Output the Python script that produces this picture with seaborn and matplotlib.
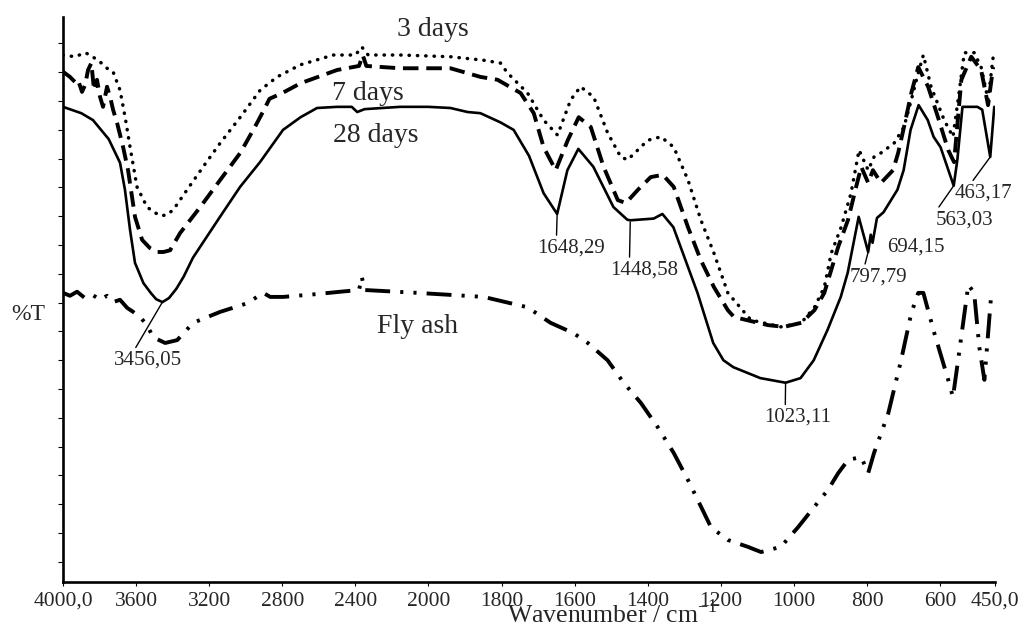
import numpy as np
import matplotlib
matplotlib.use("Agg")
import matplotlib.pyplot as plt
import seaborn as sns

# FTIR spectra (%T, arbitrary units)
wn_3 = [4000, 3934, 3879, 3852, 3797, 3759, 3726, 3688, 3660, 3633,
        3595, 3540, 3505, 3469, 3435, 3397, 3321, 3233, 3140, 3030,
        2921, 2828, 2701, 2521, 2400, 2365, 2330, 2154, 1940, 1850,
        1803, 1784, 1729, 1685, 1647, 1611, 1584, 1548, 1510, 1474,
        1455, 1400, 1364, 1329, 1290, 1255, 1219, 1181, 1118, 1036,
        980, 944, 917, 898, 871, 844, 822, 797, 781, 762,
        726, 699, 679, 660, 646, 625, 589, 565, 551, 534,
        507, 488, 469, 455]
t_3 = [88.0, 87.7, 88.4, 88.0, 86.8, 85.7, 85.1, 81.9, 77.2, 72.0,
       65.1, 61.6, 60.8, 60.1, 60.2, 61.1, 64.6, 68.6, 72.7, 77.2,
       81.9, 84.2, 86.3, 88.0, 88.0, 89.4, 88.0, 88.0, 87.7, 87.1,
       86.6, 84.9, 81.4, 76.7, 74.1, 80.2, 82.5, 80.7, 74.5, 70.3,
       69.8, 73.2, 73.8, 72.0, 66.3, 59.4, 53.6, 46.7, 42.0, 40.8,
       41.5, 44.2, 47.7, 53.6, 58.1, 64.0, 71.5, 68.0, 70.3, 71.0,
       72.7, 75.5, 80.2, 84.9, 88.0, 82.5, 76.7, 73.8, 80.2, 88.4,
       88.4, 85.9, 80.2, 87.7]

wn_7 = [4000, 3962, 3934, 3918, 3896, 3879, 3863, 3845, 3830, 3814,
        3797, 3781, 3759, 3742, 3726, 3704, 3671, 3644, 3622, 3606,
        3567, 3525, 3485, 3450, 3414, 3359, 3249, 3140, 3030, 2950,
        2900, 2870, 2800, 2700, 2500, 2380, 2360, 2340, 2156, 1940,
        1858, 1811, 1748, 1712, 1685, 1652, 1619, 1589, 1556, 1521,
        1482, 1460, 1427, 1392, 1359, 1329, 1290, 1255, 1219, 1181,
        1164, 1071, 1027, 980, 944, 917, 879, 852, 830, 816,
        797, 784, 762, 729, 715, 699, 679, 660, 633, 606,
        578, 562, 542, 515, 488, 469, 455]
t_7 = [85.1, 84.2, 83.3, 83.7, 81.6, 82.8, 85.4, 86.6, 81.9, 83.7,
       80.7, 79.0, 82.5, 80.7, 78.5, 76.2, 72.0, 68.0, 63.3, 59.9,
       55.9, 54.5, 53.8, 53.8, 54.1, 57.1, 61.6, 66.3, 71.0, 75.5,
       78.5, 80.4, 81.4, 83.1, 85.4, 86.1, 88.0, 86.1, 85.7, 85.7,
       84.2, 83.7, 81.4, 77.9, 72.0, 68.0, 73.2, 77.2, 75.5, 68.6,
       62.8, 62.3, 64.6, 66.8, 67.2, 65.1, 58.1, 52.4, 47.7, 43.7,
       42.5, 41.1, 40.8, 41.5, 43.7, 46.7, 54.7, 59.4, 65.1, 68.6,
       65.8, 68.0, 65.8, 68.0, 71.0, 75.5, 81.4, 85.9, 82.5, 77.2,
       71.5, 69.4, 83.7, 87.7, 85.4, 79.3, 85.9]

wn_28 = [4000, 3900, 3836, 3750, 3688, 3661, 3633, 3606, 3590, 3560,
         3520, 3490, 3456, 3420, 3380, 3340, 3289, 3141, 3031, 2922,
         2796, 2700, 2610, 2500, 2420, 2390, 2350, 2156, 2000, 1940,
         1893, 1858, 1803, 1767, 1725, 1685, 1648, 1620, 1590, 1549,
         1494, 1456, 1448, 1384, 1360, 1330, 1264, 1221, 1193, 1166,
         1092, 1023, 982, 946, 908, 872, 853, 823, 797, 790,
         785, 773, 755, 717, 700, 681, 659, 634, 618, 599,
         563, 553, 539, 498, 485, 463, 452]
t_28 = [79.0, 77.9, 76.7, 73.4, 69.3, 64.6, 57.6, 51.9, 50.7, 48.4,
        46.7, 45.6, 45.1, 45.8, 47.4, 49.5, 52.8, 59.9, 65.1, 69.4,
        75.0, 77.2, 78.8, 79.0, 79.0, 78.1, 78.6, 79.0, 79.0, 78.8,
        78.1, 77.9, 76.3, 75.0, 70.5, 64.0, 60.4, 68.0, 71.7, 68.6,
        61.6, 59.4, 59.3, 59.6, 60.4, 58.1, 46.7, 38.0, 35.0, 33.8,
        31.9, 31.1, 31.9, 35.0, 40.3, 46.0, 50.2, 59.9, 53.8, 56.8,
        55.4, 59.7, 60.7, 64.6, 68.0, 75.0, 79.3, 76.7, 73.8, 72.0,
        65.3, 69.8, 79.0, 79.0, 78.5, 70.3, 79.0]

wn_fa = [4000, 3962, 3923, 3880, 3836, 3797, 3759, 3726, 3688, 3649,
         3616, 3578, 3540, 3507, 3441, 3375, 3288, 3140, 2992, 2904,
         2866, 2795, 2608, 2482, 2380, 2365, 2350, 2060, 1849, 1729,
         1666, 1603, 1564, 1510, 1466, 1419, 1373, 1329, 1290, 1263,
         1227, 1181, 1126, 1090, 1036, 989, 945, 907, 879, 852,
         816, 797, 781, 742, 707, 679, 660, 646, 616, 578,
         565, 551, 523, 507, 493, 479, 460]
t_fa = [46.7, 46.2, 46.9, 45.8, 46.3, 45.5, 46.2, 45.1, 45.5, 44.1,
        43.4, 42.5, 41.1, 39.0, 38.0, 38.5, 41.5, 43.4, 44.9, 46.7,
        46.0, 46.0, 46.5, 46.9, 47.2, 49.5, 47.2, 46.7, 46.0, 44.2,
        41.5, 39.7, 38.0, 35.0, 31.1, 27.6, 23.4, 18.9, 14.2, 10.7,
        6.0, 3.8, 2.6, 1.7, 2.6, 6.0, 9.5, 12.5, 15.4, 17.7,
        18.2, 15.4, 18.9, 25.8, 35.0, 43.2, 46.7, 46.7, 39.7, 31.6,
        28.6, 35.0, 48.1, 46.7, 37.3, 31.6, 46.7]

x_ticks = [4000, 3600, 3200, 2800, 2400, 2000, 1800, 1600, 1400, 1200, 1000, 800, 600, 450]
x_tick_labels = ["4000,0", "3600", "3200", "2800", "2400", "2000", "1800", "1600",
                 "1400", "1200", "1000", "800", "600", "450,0"]

# band labels on the 28-day spectrum
band_labels = ["3456,05", "1648,29", "1448,58", "1023,11", "797,79", "563,03", "463,17"]
band_wn = [3456, 1648, 1448, 1023, 797, 563, 463]
band_t = [45.1, 60.4, 59.0, 31.1, 53.8, 65.3, 70.3]


def fwd(x):
    # wavenumbers above 2000 are drawn at half scale
    x = np.asarray(x, dtype=float)
    return np.where(x > 2000, 2000 + (x - 2000) / 2.0, x)


def inv(u):
    u = np.asarray(u, dtype=float)
    return np.where(u > 2000, 2000 + (u - 2000) * 2.0, u)


sns.set_theme(style="ticks")
plt.rcParams["font.family"] = ["Liberation Serif", "DejaVu Serif"]
plt.rcParams["mathtext.fontset"] = "custom"
plt.rcParams["mathtext.rm"] = "Liberation Serif"

fig = plt.figure(figsize=(10.24, 6.3), dpi=100)
ax = fig.add_axes([63 / 1024, 48 / 630, 932 / 1024, 565 / 630])

sns.lineplot(x=wn_3, y=t_3, ax=ax, color="black", lw=2.5, sort=False, estimator=None,
             linestyle=(0, (0.1, 2.3)), dash_capstyle="round")
sns.lineplot(x=wn_7, y=t_7, ax=ax, color="black", lw=2.8, sort=False, estimator=None,
             linestyle=(0, (4, 2)))
sns.lineplot(x=wn_28, y=t_28, ax=ax, color="black", lw=1.9, sort=False, estimator=None)
sns.lineplot(x=wn_fa, y=t_fa, ax=ax, color="black", lw=2.8, sort=False, estimator=None,
             linestyle=(0, (6.4, 2.6, 0.8, 2.6, 0.8, 2.6)))

ax.set_xscale("function", functions=(fwd, inv))
ax.set_xlim(4000, 450)
ax.set_ylim(-3.5, 94.6)
ax.set_xticks(x_ticks)
ax.set_xticklabels(x_tick_labels)
ax.xaxis.set_minor_locator(matplotlib.ticker.NullLocator())
ax.set_yticks(np.arange(0, 91, 5))
ax.set_yticklabels([])
ax.tick_params(axis="x", length=3, width=0.8, pad=4, labelsize=15.5, color="black")
ax.tick_params(axis="y", length=3.5, width=0.8, color="black")
sns.despine(ax=ax)
for side in ("left", "bottom"):
    ax.spines[side].set_linewidth(1.9)
    ax.spines[side].set_color("black")

ax.set_xlabel("Wavenumber / cm$^{-1}$", fontsize=18.5, va="baseline")
ax.xaxis.set_label_coords(0.589, -0.0726)
ax.set_ylabel("%T", rotation=0, fontsize=17, ha="center", va="center")
ax.yaxis.set_label_coords(-0.0376, 0.4726)

# curve names
ax.text(1989, 92.5, "3 days", fontsize=20, ha="center", va="center")
ax.text(2329, 81.4, "7 days", fontsize=20, ha="center", va="center")
ax.text(2291, 74.1, "28 days", fontsize=20, ha="center", va="center")
ax.text(2060, 40.8, "Fly ash", fontsize=20, ha="center", va="center")

# band annotations
text_pos = [(3534, 35.0), (1611, 54.5), (1411, 50.7), (989, 25.1), (770, 49.5), (534, 59.4), (482, 64.0)]
rel = [(0.29, 1.0), (0.29, 1.0), (0.29, 1.0), (0.31, 1.0), (0.26, 1.0), (0.02, 1.0), (0.28, 1.0)]
for lab, bx, bt, (tx, ty), rp in zip(band_labels, band_wn, band_t, text_pos, rel):
    ax.annotate(lab, xy=(bx, bt), xytext=(tx, ty), textcoords="data",
                ha="center", va="center", fontsize=15,
                arrowprops=dict(arrowstyle="-", lw=1.0, color="black",
                                shrinkA=0, shrinkB=0, relpos=rp))
ax.text(666, 54.7, "694,15", fontsize=15, ha="center", va="center")

fig.savefig("out.png", dpi=100, facecolor="white")
